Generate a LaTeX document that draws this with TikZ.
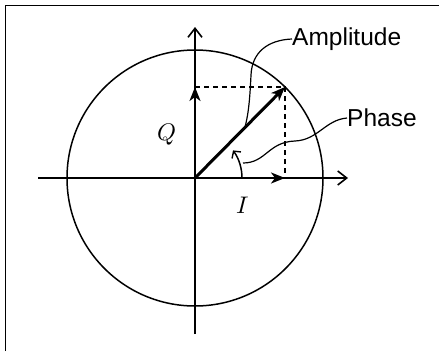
\documentclass[tikz,border=0pt]{standalone}
\usepackage{fontspec}
\setmainfont{Liberation Sans}
\usepackage{unicode-math}
\usetikzlibrary{arrows.meta}
\begin{document}
\begin{tikzpicture}[x=1pt,y=-1pt,
  axis/.style={line width=1.8pt,-{Straight Barb[length=9pt,width=14pt,line width=1.6pt]}},
  vec/.style={line width=2.2pt,-{Stealth[length=14pt,width=11pt,inset=4pt]}},
  guide/.style={line width=1.4pt,dashed,dash pattern=on 5pt off 4pt},
  leader/.style={line width=1.2pt},
  lab/.style={font=\fontsize{24.5}{28}\selectfont,inner sep=0pt},
  mlab/.style={font=\fontsize{24}{28}\selectfont,inner sep=0pt}]
\useasboundingbox (0,0) rectangle (439,351);
% frame
\draw[line width=1.6pt] (5.5,351) -- (5.5,5.5) -- (439,5.5);
\coordinate (O) at (195,178);
\coordinate (xl) at (38,178);
\coordinate (xr) at (348,178);
\coordinate (yb) at (195,334);
\coordinate (yt) at (195,27);
\coordinate (P) at (285,87);
\coordinate (Qp) at (195,87);
\coordinate (Ip) at (285,178);
% circle
\node[draw,circle,line width=1.5pt,minimum size=256pt,inner sep=0pt] (C) at (O) {};
% axes
\draw[axis] (xl) -- (xr);
\draw[axis] (yb) -- (yt);
% dashed
\draw[guide] (Qp) -- (P) -- (Ip);
% vectors
\draw[vec] (O) -- (Qp);
\draw[vec] (O) -- (Ip);
\draw[vec,line width=3pt] (O) -- (P);
% phase arc
\draw[line width=1.5pt,-{Straight Barb[length=5pt,width=11pt,line width=1.4pt]}] (242,178) arc[start angle=0,end angle=-36,radius=47];
% labels
\node[lab,anchor=west] (amp) at (292,39) {Amplitude};
\node[lab,anchor=west] (ph) at (347,118) {Phase};
\node[mlab] (q) at (167,134) {$Q$};
\node[mlab] (i) at (243,205) {$I$};
% leaders
\draw[leader] (amp.west) .. controls (268,40) and (252,52) .. (251,75)
  .. controls (250,95) and (249,112) .. (245,127);
\draw[leader] (ph.west) .. controls (325,120) and (318,140) .. (295,141)
  .. controls (268,142) and (266,163) .. (243,163);
\end{tikzpicture}
\end{document}
